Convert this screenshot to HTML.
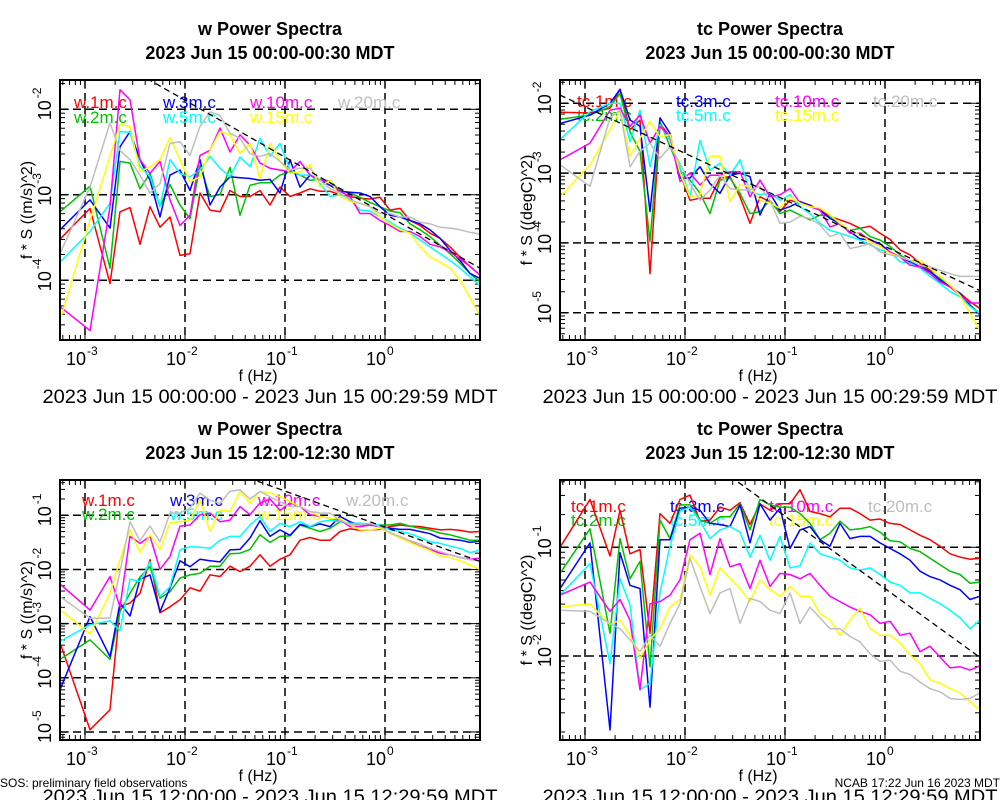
<!DOCTYPE html>
<html><head><meta charset="utf-8"><style>
html,body{margin:0;padding:0;background:#fff;}
svg{display:block;font-family:"Liberation Sans",Arial,sans-serif;}
</style></head><body>
<svg id="fig" xmlns="http://www.w3.org/2000/svg" width="1000" height="800" viewBox="0 0 1000 800">
<rect x="0" y="0" width="1000" height="800" fill="#fff"/>
<text x="0" y="787" font-size="12">SOS: preliminary field observations</text>
<text x="1000" y="787" font-size="12" text-anchor="end">NCAB 17:22 Jun 16 2023 MDT</text>
</svg>
<script>
// common frequency grid, log10(f / Hz)
const freqLog = [-3.25,-2.95,-2.75,-2.65,-2.55,-2.45,-2.35,-2.25,-2.15,-2.05,-1.95,-1.85,-1.75,-1.65,-1.55,-1.45,-1.35,-1.25,-1.15,-1.05,-0.95,-0.85,-0.75,-0.65,-0.55,-0.45,-0.35,-0.25,-0.15,-0.05,0.05,0.15,0.25,0.35,0.45,0.55,0.65,0.75,0.85,0.95];
const xTickExps = [-3,-2,-1,0];
const seriesColors = ["#ff0000","#00c000","#0000ff","#00ffff","#ff00ff","#ffff00","#bebebe"];

// Panel 1: w, 00:00-00:30 (values are log10 of f*S)
const p1Labels = ["w.1m.c","w.2m.c","w.3m.c","w.5m.c","w.10m.c","w.15m.c","w.20m.c"];
const p1_w1m = [-3.52,-3.16,-4.04,-3.20,-3.15,-3.58,-3.14,-3.38,-3.26,-3.71,-3.69,-2.98,-3.18,-3.20,-2.95,-3.02,-3.02,-2.95,-3.12,-2.91,-3.02,-2.98,-2.93,-2.96,-2.96,-3.00,-3.02,-3.04,-3.05,-3.03,-3.18,-3.16,-3.30,-3.36,-3.45,-3.51,-3.61,-3.73,-3.84,-3.94];
const p1_w2m = [-3.20,-2.90,-3.86,-2.61,-2.63,-2.93,-2.75,-3.14,-2.88,-3.12,-3.28,-2.66,-3.02,-3.00,-2.68,-3.24,-2.89,-2.86,-2.86,-2.77,-2.73,-2.77,-2.83,-2.82,-2.84,-2.95,-2.98,-3.03,-3.09,-3.14,-3.19,-3.21,-3.34,-3.41,-3.49,-3.59,-3.69,-3.80,-3.92,-4.02];
const p1_w3m = [-3.41,-3.06,-3.39,-2.44,-2.26,-2.59,-2.83,-3.26,-2.77,-2.71,-2.95,-2.59,-3.12,-2.91,-2.79,-2.80,-2.81,-2.83,-2.82,-2.98,-2.59,-2.91,-2.77,-2.83,-2.89,-2.96,-2.97,-2.98,-3.02,-3.14,-3.24,-3.26,-3.30,-3.34,-3.41,-3.51,-3.65,-3.77,-3.92,-3.98];
const p1_w5m = [-3.79,-3.43,-3.10,-2.26,-2.27,-2.67,-2.79,-3.14,-2.59,-2.75,-2.79,-2.71,-2.55,-2.69,-2.79,-2.56,-2.67,-2.34,-2.55,-2.40,-2.71,-2.77,-2.77,-2.87,-3.02,-3.00,-3.04,-3.18,-3.19,-3.26,-3.32,-3.39,-3.45,-3.53,-3.61,-3.69,-3.77,-3.86,-3.96,-4.06];
const p1_w10m = [-4.31,-4.59,-3.14,-1.77,-1.89,-2.59,-2.75,-2.61,-3.06,-3.36,-3.24,-2.54,-2.48,-2.22,-2.50,-2.30,-2.42,-2.63,-2.69,-2.71,-2.73,-2.61,-2.77,-2.83,-2.85,-2.96,-3.02,-3.22,-3.22,-3.30,-3.36,-3.43,-3.43,-3.49,-3.58,-3.61,-3.67,-3.75,-3.84,-3.94];
const p1_w15m = [-4.47,-3.30,-2.55,-2.18,-2.20,-2.73,-2.67,-2.59,-2.33,-2.59,-2.85,-2.79,-2.48,-2.26,-2.30,-2.52,-2.40,-2.81,-2.40,-2.61,-2.75,-2.73,-2.65,-2.91,-2.83,-3.02,-3.08,-3.10,-3.14,-3.26,-3.34,-3.41,-3.45,-3.61,-3.73,-3.79,-3.86,-4.00,-4.21,-4.41];
const p1_w20m = [-3.69,-2.91,-2.16,-2.48,-2.59,-2.77,-2.98,-2.87,-2.40,-2.38,-2.54,-2.20,-2.03,-2.07,-2.28,-2.34,-2.52,-2.55,-2.52,-2.61,-2.71,-2.69,-2.69,-2.83,-2.93,-2.98,-3.06,-3.10,-3.14,-3.22,-3.22,-3.26,-3.26,-3.32,-3.34,-3.38,-3.39,-3.41,-3.44,-3.46];

// Panel 2: tc, 00:00-00:30
const p2Labels = ["tc.1m.c","tc.2m.c","tc.3m.c","tc.5m.c","tc.10m.c","tc.15m.c","tc.20m.c"];
const p2_tc1m = [-2.13,-2.14,-2.07,-1.80,-2.38,-2.24,-4.44,-2.29,-2.48,-3.00,-3.39,-3.36,-3.36,-3.07,-3.05,-3.34,-3.72,-3.34,-3.41,-3.55,-3.39,-3.43,-3.48,-3.53,-3.62,-3.67,-3.72,-3.79,-3.76,-3.86,-3.95,-4.10,-4.17,-4.29,-4.39,-4.53,-4.63,-4.72,-4.84,-4.94];
const p2_tc2m = [-2.23,-2.17,-2.05,-1.86,-2.41,-2.69,-3.98,-2.26,-2.62,-2.96,-3.10,-3.29,-3.58,-3.10,-3.07,-3.29,-3.58,-3.55,-3.39,-3.58,-3.53,-3.60,-3.67,-3.60,-3.62,-3.74,-3.82,-3.79,-3.91,-3.96,-4.05,-4.17,-4.27,-4.32,-4.41,-4.51,-4.63,-4.72,-4.89,-5.01];
const p2_tc3m = [-2.29,-2.17,-2.00,-1.80,-2.24,-2.33,-3.55,-2.21,-2.43,-3.07,-3.07,-2.91,-3.15,-3.29,-3.03,-3.00,-3.05,-3.60,-3.29,-3.53,-3.48,-3.41,-3.46,-3.53,-3.65,-3.72,-3.84,-3.94,-3.96,-4.01,-4.13,-4.20,-4.27,-4.34,-4.41,-4.53,-4.63,-4.72,-4.89,-5.03];
const p2_tc5m = [-2.52,-2.12,-2.00,-2.00,-2.55,-2.10,-2.91,-2.31,-2.53,-2.91,-3.34,-2.53,-2.96,-2.86,-3.03,-2.81,-3.27,-3.31,-3.29,-3.39,-3.31,-3.48,-3.58,-3.72,-3.82,-3.86,-3.91,-3.96,-4.03,-4.10,-4.13,-4.27,-4.29,-4.36,-4.48,-4.58,-4.70,-4.77,-4.91,-5.01];
const p2_tc10m = [-2.81,-2.57,-2.10,-2.07,-2.33,-2.17,-2.57,-2.33,-2.48,-3.12,-3.00,-3.17,-3.03,-3.03,-2.98,-2.98,-3.34,-3.10,-3.34,-3.31,-3.22,-3.43,-3.48,-3.53,-3.77,-3.72,-3.86,-3.86,-3.96,-4.05,-4.13,-4.20,-4.32,-4.34,-4.44,-4.56,-4.63,-4.75,-4.86,-4.86];
const p2_tc15m = [-3.34,-2.88,-2.38,-2.10,-2.76,-2.50,-2.26,-2.48,-2.45,-3.00,-3.34,-3.31,-2.76,-2.76,-3.41,-3.17,-3.19,-3.39,-3.43,-3.50,-3.34,-3.43,-3.48,-3.50,-3.60,-3.72,-3.82,-3.89,-3.98,-4.05,-4.15,-4.20,-4.25,-4.25,-4.36,-4.48,-4.60,-4.75,-5.01,-5.25];
const p2_tc20m = [-2.88,-3.19,-2.21,-2.10,-2.91,-2.69,-2.57,-2.79,-2.62,-2.86,-3.15,-3.39,-3.24,-3.03,-3.22,-3.24,-3.24,-3.19,-3.39,-3.72,-3.70,-3.62,-3.65,-3.74,-3.91,-3.86,-4.08,-4.05,-4.01,-4.13,-4.17,-4.20,-4.25,-4.32,-4.34,-4.39,-4.44,-4.48,-4.48,-4.48];

// Panel 3: w, 12:00-12:30
const p3Labels = p1Labels;
const p3_w1m = [-3.35,-4.96,-4.59,-2.69,-2.62,-2.44,-1.82,-2.80,-2.69,-2.56,-2.34,-2.40,-2.10,-2.13,-1.94,-2.04,-1.94,-1.73,-1.94,-1.81,-1.73,-1.46,-1.41,-1.46,-1.46,-1.30,-1.25,-1.28,-1.27,-1.26,-1.21,-1.18,-1.20,-1.21,-1.24,-1.27,-1.26,-1.28,-1.31,-1.30];
const p3_w2m = [-3.66,-3.30,-3.66,-2.78,-2.44,-2.14,-1.95,-2.53,-2.41,-2.16,-2.10,-2.07,-1.94,-1.94,-1.71,-1.70,-1.63,-1.36,-1.50,-1.39,-1.38,-1.18,-1.24,-1.30,-1.24,-1.12,-1.15,-1.15,-1.18,-1.18,-1.18,-1.15,-1.20,-1.24,-1.27,-1.33,-1.36,-1.41,-1.46,-1.46];
const p3_w3m = [-4.22,-2.87,-3.61,-2.62,-2.86,-2.18,-2.10,-2.78,-2.34,-1.84,-1.95,-1.81,-1.84,-1.86,-1.64,-1.63,-1.42,-1.10,-1.39,-1.27,-1.37,-1.17,-1.21,-1.16,-1.21,-1.02,-1.12,-1.18,-1.18,-1.21,-1.24,-1.26,-1.26,-1.30,-1.34,-1.42,-1.44,-1.46,-1.50,-1.48];
const p3_w5m = [-3.33,-3.02,-2.95,-3.13,-2.18,-2.22,-1.86,-2.50,-2.32,-1.64,-1.58,-1.59,-1.61,-1.46,-1.39,-1.39,-1.18,-1.02,-1.30,-1.15,-1.21,-1.12,-1.21,-1.12,-1.09,-1.12,-1.15,-1.15,-1.16,-1.18,-1.27,-1.30,-1.34,-1.41,-1.49,-1.52,-1.57,-1.61,-1.69,-1.64];
const p3_w10m = [-2.27,-2.75,-2.13,-2.69,-1.39,-1.52,-1.39,-2.00,-1.76,-1.20,-1.18,-0.99,-0.96,-1.12,-1.09,-0.84,-0.99,-0.77,-0.70,-0.91,-0.77,-0.84,-0.99,-1.02,-1.06,-1.09,-1.21,-1.21,-1.18,-1.21,-1.33,-1.42,-1.49,-1.57,-1.63,-1.70,-1.73,-1.78,-1.81,-1.79];
const p3_w15m = [-2.74,-3.19,-2.44,-1.82,-1.27,-1.69,-1.36,-1.63,-1.14,-1.12,-1.09,-0.72,-1.30,-0.90,-0.93,-0.56,-0.78,-0.56,-0.59,-0.66,-0.75,-0.84,-0.93,-1.02,-1.06,-1.06,-1.18,-1.27,-1.27,-1.24,-1.33,-1.42,-1.50,-1.58,-1.65,-1.75,-1.78,-1.84,-1.92,-2.00];
const p3_w20m = [-2.50,-2.90,-2.90,-2.04,-1.12,-1.47,-1.20,-1.49,-0.96,-0.96,-0.87,-0.59,-0.72,-0.78,-0.56,-0.53,-0.70,-0.56,-0.66,-0.75,-0.84,-0.84,-0.93,-0.96,-0.96,-1.09,-1.18,-1.18,-1.15,-1.21,-1.32,-1.39,-1.47,-1.53,-1.61,-1.67,-1.73,-1.78,-1.82,-1.84];

// Panel 4: tc, 12:00-12:30
const p4Labels = p2Labels;
const p4_tc1m = [-1.00,-0.56,-1.08,-0.66,-1.06,-1.02,-1.79,-0.69,-0.78,-0.56,-0.52,-0.76,-0.75,-0.63,-0.66,-0.59,-0.79,-0.60,-0.66,-0.60,-0.60,-0.47,-0.67,-0.69,-0.72,-0.64,-0.64,-0.69,-0.75,-0.74,-0.78,-0.79,-0.84,-0.89,-0.93,-0.99,-1.06,-1.09,-1.11,-1.10];
const p4_tc2m = [-1.24,-0.83,-1.79,-0.92,-1.29,-1.13,-2.10,-0.75,-0.92,-0.61,-0.61,-0.75,-0.78,-0.72,-0.72,-0.60,-0.84,-0.56,-0.61,-0.63,-0.63,-0.69,-0.78,-0.93,-0.87,-0.76,-0.84,-0.83,-0.81,-0.86,-0.94,-0.95,-1.01,-1.04,-1.10,-1.16,-1.22,-1.25,-1.33,-1.32];
const p4_tc3m = [-1.38,-0.96,-2.68,-1.05,-1.35,-1.38,-2.47,-0.93,-0.93,-0.64,-0.63,-0.66,-0.78,-0.79,-0.81,-0.61,-0.96,-0.60,-0.75,-0.64,-1.01,-0.84,-0.81,-0.93,-0.99,-0.78,-0.92,-0.90,-0.90,-0.96,-1.01,-1.06,-1.12,-1.22,-1.27,-1.30,-1.35,-1.39,-1.48,-1.45];
const p4_tc5m = [-1.44,-1.15,-2.07,-1.29,-1.53,-2.31,-2.25,-1.42,-0.99,-0.67,-0.63,-0.76,-0.92,-0.84,-0.81,-0.86,-1.09,-0.89,-1.12,-0.90,-1.19,-1.17,-0.96,-1.06,-1.09,-1.12,-1.19,-1.21,-1.19,-1.25,-1.32,-1.35,-1.42,-1.42,-1.47,-1.52,-1.58,-1.65,-1.75,-1.67];
const p4_tc10m = [-1.44,-1.32,-1.59,-1.48,-1.67,-2.31,-1.52,-1.50,-1.44,-1.30,-0.93,-0.87,-1.25,-0.92,-1.18,-1.15,-1.38,-1.12,-1.36,-1.24,-1.25,-1.29,-1.24,-1.35,-1.45,-1.50,-1.55,-1.59,-1.62,-1.70,-1.68,-1.81,-1.79,-1.96,-1.91,-2.01,-2.11,-2.10,-2.13,-2.09];
const p4_tc15m = [-1.55,-1.52,-1.71,-1.67,-1.81,-2.02,-1.85,-1.75,-1.55,-1.48,-1.07,-1.18,-1.44,-1.19,-1.29,-1.38,-1.50,-1.30,-1.39,-1.45,-1.36,-1.45,-1.45,-1.61,-1.67,-1.81,-1.67,-1.56,-1.75,-1.81,-1.81,-1.88,-1.99,-2.07,-2.22,-2.25,-2.30,-2.34,-2.42,-2.50];
const p4_tc20m = [-1.58,-1.59,-1.70,-1.75,-1.85,-1.96,-1.81,-1.91,-1.70,-1.52,-1.10,-1.36,-1.61,-1.42,-1.38,-1.70,-1.47,-1.50,-1.58,-1.61,-1.42,-1.70,-1.55,-1.65,-1.75,-1.75,-1.82,-1.87,-1.98,-2.05,-2.04,-2.14,-2.17,-2.24,-2.30,-2.33,-2.39,-2.40,-2.39,-2.34];

// -5/3 reference line intercepts (log10 value at f = 1 Hz), slope -2/3 in f*S
const refIntercepts = [-3.227, -4.05, -1.22, -1.38];
const refSlope = -2/3;

const NS = "http://www.w3.org/2000/svg";
const svg = document.getElementById('fig');
function mk(tag, attrs, parent){
  const e = document.createElementNS(NS, tag);
  for (const k in attrs) e.setAttribute(k, attrs[k]);
  (parent||svg).appendChild(e);
  return e;
}

const panels = [
  {key:'w-early', x0:60, x1:480, y0:80, y1:340, ymin:-4.70, ymax:-1.657, yExps:[-2,-3,-4], series:[p1_w1m,p1_w2m,p1_w3m,p1_w5m,p1_w10m,p1_w15m,p1_w20m], labels:p1Labels,
   title:"w Power Spectra", sub:"2023 Jun 15 00:00-00:30 MDT", ytitle:"f * S ((m/s)^2)", foot:"2023 Jun 15 00:00:00 - 2023 Jun 15 00:29:59 MDT", legX:[74,163,250,338], legY:[108,123], cx:270},
  {key:'tc-early', x0:560, x1:980, y0:80, y1:340, ymin:-5.39, ymax:-1.667, yExps:[-2,-3,-4,-5], series:[p2_tc1m,p2_tc2m,p2_tc3m,p2_tc5m,p2_tc10m,p2_tc15m,p2_tc20m], labels:p2Labels,
   title:"tc Power Spectra", sub:"2023 Jun 15 00:00-00:30 MDT", ytitle:"f * S ((degC)^2)", foot:"2023 Jun 15 00:00:00 - 2023 Jun 15 00:29:59 MDT", legX:[577,676,775,873], legY:[107,121], cx:770},
  {key:'w-noon', x0:60, x1:480, y0:480, y1:740, ymin:-5.148, ymax:-0.349, yExps:[-1,-2,-3,-4,-5], series:[p3_w1m,p3_w2m,p3_w3m,p3_w5m,p3_w10m,p3_w15m,p3_w20m], labels:p3Labels,
   title:"w Power Spectra", sub:"2023 Jun 15 12:00-12:30 MDT", ytitle:"f * S ((m/s)^2)", foot:"2023 Jun 15 12:00:00 - 2023 Jun 15 12:29:59 MDT", legX:[82,170,258,346], legY:[506,520], cx:270},
  {key:'tc-noon', x0:560, x1:980, y0:480, y1:740, ymin:-2.773, ymax:-0.381, yExps:[-1,-2], series:[p4_tc1m,p4_tc2m,p4_tc3m,p4_tc5m,p4_tc10m,p4_tc15m,p4_tc20m], labels:p4Labels,
   title:"tc Power Spectra", sub:"2023 Jun 15 12:00-12:30 MDT", ytitle:"f * S ((degC)^2)", foot:"2023 Jun 15 12:00:00 - 2023 Jun 15 12:29:59 MDT", legX:[571,670,769,868], legY:[512,526], cx:770}
];
const XMIN = -3.25, XMAX = 0.95;

panels.forEach((p, pi) => {
  const sx = v => p.x0 + (v - XMIN) / (XMAX - XMIN) * (p.x1 - p.x0);
  const sy = v => p.y1 - (v - p.ymin) / (p.ymax - p.ymin) * (p.y1 - p.y0);
  const g = mk('g', {});
  
  

  const t1 = mk('text', {x:p.cx, y:p.y0-45, 'font-size':18, 'font-weight':'bold', 'text-anchor':'middle'}, g);
  t1.textContent = p.title;
  
  
  const t2 = mk('text', {x:p.cx, y:p.y0-21, 'font-size':18, 'font-weight':'bold', 'text-anchor':'middle'}, g);
  t2.textContent = p.sub;
  
  

  const cid = 'clip' + pi;
  const cp = mk('clipPath', {id:cid}, g);
  mk('rect', {x:p.x0, y:p.y0, width:p.x1-p.x0, height:p.y1-p.y0}, cp);

  const ticks = mk('g', {stroke:'#000','stroke-width':1}, g);
  
  
  for (let e = -4; e <= 1; e++) for (let m = 1; m < 10; m++) {
    const v = e + Math.log10(m);
    if (v < XMIN || v > XMAX) continue;
    const x = sx(v), len = m === 1 ? 9 : 5;
    mk('line', {x1:x, x2:x, y1:p.y1, y2:p.y1-len}, ticks);
    mk('line', {x1:x, x2:x, y1:p.y0, y2:p.y0+len}, ticks);
  }
  for (let e = -6; e <= 0; e++) for (let m = 1; m < 10; m++) {
    const v = e + Math.log10(m);
    if (v < p.ymin || v > p.ymax) continue;
    const y = sy(v), len = m === 1 ? 9 : 5;
    mk('line', {x1:p.x0, x2:p.x0+len, y1:y, y2:y}, ticks);
    mk('line', {x1:p.x1, x2:p.x1-len, y1:y, y2:y}, ticks);
  }

  const grid = mk('g', {stroke:'#000','stroke-width':1.5,'stroke-dasharray':'8,5'}, g);
  
  
  xTickExps.forEach(e => { const x = sx(e); mk('line', {x1:x, x2:x, y1:p.y0, y2:p.y1}, grid); });
  p.yExps.forEach(e => { const y = sy(e); mk('line', {x1:p.x0, x2:p.x1, y1:y, y2:y}, grid); });

  xTickExps.forEach(e => {
    const x = sx(e);
    const tl = mk('text', {x:x+1, y:p.y1+25, 'font-size':18, 'text-anchor':'end'}, g);
    tl.textContent = '10';
    
    
    const te = mk('text', {x:x+2, y:p.y1+15, 'font-size':12}, g);
    te.textContent = String(e);
    
    
  });
  p.yExps.forEach(e => {
    const y = sy(e);
    const tl = mk('text', {x:0, y:0, 'font-size':18, transform:`translate(${p.x0-9},${y+11}) rotate(-90)`}, g);
    tl.textContent = '10';
    
    
    const te = mk('text', {x:0, y:0, 'font-size':12, transform:`translate(${p.x0-19},${y-11}) rotate(-90)`}, g);
    te.textContent = String(e);
    
    
  });

  const yt = mk('text', {x:0, y:0, 'font-size':16, 'text-anchor':'middle', transform:`translate(${p.x0-28},${(p.y0+p.y1)/2}) rotate(-90)`}, g);
  yt.textContent = p.ytitle;
  
  
  const xt = mk('text', {x:(p.x0+p.x1)/2-12, y:p.y1+41, 'font-size':16, 'text-anchor':'middle'}, g);
  xt.textContent = 'f (Hz)';
  
  
  const ft = mk('text', {x:p.cx, y:p.y1+63, 'font-size':19, 'text-anchor':'middle', textLength:455, lengthAdjust:'spacingAndGlyphs'}, g);
  ft.textContent = p.foot;
  
  

  p.labels.forEach((lab, i) => {
    const col = i < 2 ? 0 : i < 4 ? 1 : i < 6 ? 2 : 3;
    const row = i === 6 ? 0 : i % 2;
    const lt = mk('text', {x:p.legX[col], y:p.legY[row], 'font-size':17, fill:seriesColors[i]}, g);
    lt.textContent = lab;
    
    
  });

  const lines = mk('g', {'clip-path':`url(#${cid})`, fill:'none', 'stroke-width':1.5, 'stroke-linejoin':'round'}, g);
  p.series.forEach((vals, i) => {
    const d = vals.map((v, k) => (k ? 'L' : 'M') + sx(freqLog[k]).toFixed(1) + ',' + sy(v).toFixed(1)).join('');
    const pl = mk('path', {d:d, stroke:seriesColors[i]}, lines);
    
    
  });

  const a = refIntercepts[pi];
  const rl = mk('line', {x1:sx(XMIN), y1:sy(a + refSlope*XMIN), x2:sx(XMAX), y2:sy(a + refSlope*XMAX),
    stroke:'#000', 'stroke-width':1.3, 'stroke-dasharray':'6,4', 'clip-path':`url(#${cid})`}, g);
  
  

  const fr = mk('rect', {x:p.x0, y:p.y0, width:p.x1-p.x0, height:p.y1-p.y0, fill:'none', stroke:'#000', 'stroke-width':2}, g);
  
  
});
</script>
</body></html>
